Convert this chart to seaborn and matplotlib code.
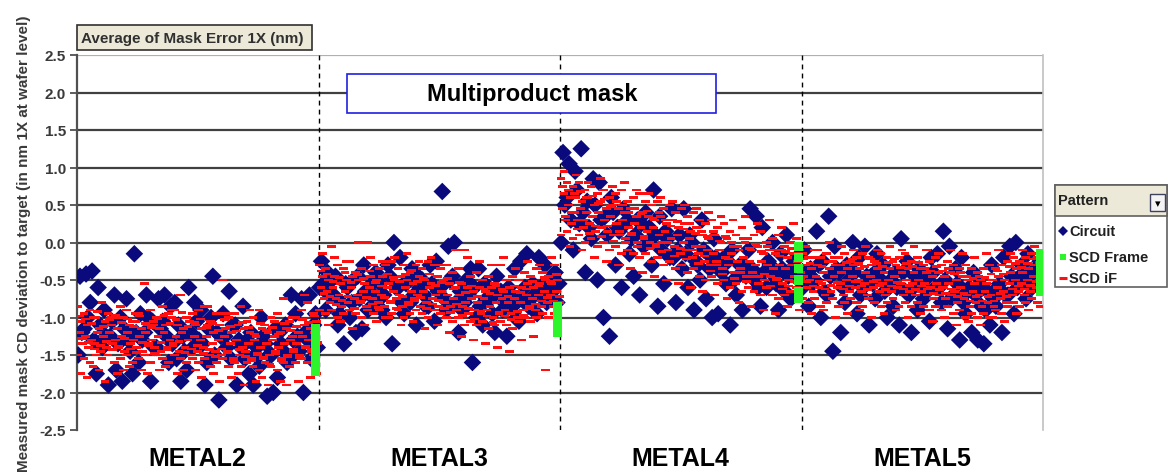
import matplotlib
matplotlib.use("Agg")
import matplotlib.pyplot as plt
from matplotlib.patches import Rectangle
from matplotlib.lines import Line2D
import seaborn as sns
import pandas as pd

# ---------------- data ----------------
METALS = ["METAL2", "METAL3", "METAL4", "METAL5"]
YTICKS = [-2.5, -2.0, -1.5, -1.0, -0.5, 0.0, 0.5, 1.0, 1.5, 2.0, 2.5]
PATTERNS = ["Circuit", "SCD Frame", "SCD iF"]

METAL2_CIRCUIT = [
    [-0.45, -0.42, -0.38, -0.6, -0.9, -1.25, -1.7, -1.85, -1.3, -0.15, -0.95, -0.7, -1.05, -0.75, -0.7, -0.85, -1.55, -1.25, -0.6, -0.8,
     -0.9, -1.6, -0.45, -2.1, -1.25, -1.55, -1.9, -0.85, -1.75, -1.5, -1.0, -2.05, -2.0, -1.2, -1.1, -0.7, -1.25, -2.0, -0.7, -0.95],
    [-1.5, -1.15, -0.8, -1.75, -1.4, -1.9, -0.7, -1.0, -0.75, -1.75, -1.6, -1.2, -1.85, -1.4, -1.05, -1.6, -0.8, -1.85, -1.7, -1.4,
     -1.3, -1.9, -1.0, -1.2, -0.95, -0.65, -1.1, -1.4, -1.3, -1.9, -1.65, -1.35, -1.5, -1.8, -1.45, -1.55, -0.95, -0.75, -1.3, -1.1],
    [-1.2, -1.0, -1.3, -1.1, -1.25, -1.05, -1.35, -1.15, -1.45, -1.2, -1.3, -1.0, -1.4, -1.15, -1.25, -1.35, -1.1, -1.45, -1.2, -1.05,
     -1.35, -1.15, -1.5, -1.25, -1.4, -1.1, -1.3, -1.55, -1.2, -1.4, -1.25, -1.5, -1.15, -1.35, -1.6, -1.3, -1.45, -1.2, -1.55, -1.4],
]
METAL2_IF = [
    [-0.85, -0.95, -0.9, -1.0, -0.8, -0.95, -1.0, -0.85, -0.9, -1.05, -0.95, -0.55, -0.9, -1.0, -0.85, -0.95, -0.9, -0.7, -1.0, -0.95,
     -0.9, -0.85, -1.05, -0.95, -0.5, -1.0, -0.95, -0.85, -1.05, -1.0, -0.9, -1.1, -1.0, -0.95, -0.75, -1.05, -1.0, -0.9, -0.8, -0.95],
    [-1.05, -1.1, -1.0, -1.15, -1.05, -1.1, -1.15, -1.0, -1.1, -1.05, -1.15, -1.1, -1.05, -1.15, -1.1, -1.0, -1.1, -1.15, -1.05, -1.1,
     -1.15, -1.1, -1.2, -1.1, -1.15, -1.2, -1.1, -1.15, -1.2, -1.25, -1.15, -1.2, -1.25, -1.2, -1.15, -1.25, -1.2, -1.1, -1.15, -1.05],
    [-1.2, -1.25, -1.3, -1.2, -1.25, -1.2, -1.3, -1.25, -1.2, -1.3, -1.25, -1.2, -1.3, -1.25, -1.2, -1.3, -1.25, -1.2, -1.3, -1.25,
     -1.3, -1.25, -1.35, -1.3, -1.25, -1.35, -1.3, -1.4, -1.35, -1.3, -1.4, -1.35, -1.3, -1.4, -1.35, -1.3, -1.35, -1.25, -1.3, -1.2],
    [-1.35, -1.4, -1.35, -1.45, -1.4, -1.35, -1.4, -1.45, -1.35, -1.4, -1.45, -1.35, -1.4, -1.45, -1.4, -1.35, -1.45, -1.4, -1.5, -1.45,
     -1.4, -1.5, -1.45, -1.5, -1.45, -1.55, -1.5, -1.45, -1.55, -1.5, -1.55, -1.5, -1.45, -1.55, -1.5, -1.45, -1.5, -1.4, -1.45, -1.35],
    [-1.5, -1.55, -1.6, -1.5, -1.55, -1.5, -1.6, -1.55, -1.5, -1.6, -1.55, -1.5, -1.6, -1.5, -1.55, -1.6, -1.5, -1.55, -1.6, -1.55,
     -1.6, -1.55, -1.65, -1.6, -1.55, -1.65, -1.6, -1.65, -1.6, -1.65, -1.7, -1.6, -1.65, -1.7, -1.6, -1.65, -1.6, -1.55, -1.6, -1.5],
    [-1.75, -1.8, -1.65, -1.7, -1.85, -1.0, -1.75, -1.7, -1.65, -0.95, -1.7, -1.75, -1.1, -1.7, -1.65, -0.9, -1.75, -1.7, -1.05, -1.7,
     -1.8, -0.85, -1.75, -1.85, -0.95, -1.8, -1.75, -1.9, -0.9, -1.85, -1.8, -1.9, -1.05, -1.85, -1.9, -1.0, -1.85, -0.7, -1.8, -1.75],
    [-0.98, -1.02, -1.08, -0.92, -1.12, -1.03, -0.97, -1.07, -1.02, -1.12, -0.98, -1.08, -1.13, -1.02, -0.97, -1.08, -1.03, -0.93, -1.12, -1.07,
     -1.02, -1.13, -1.08, -1.17, -1.03, -1.12, -1.18, -1.07, -1.13, -1.22, -1.08, -1.17, -1.13, -1.22, -1.08, -1.17, -1.12, -1.03, -1.07, -0.98],
    [-1.28, -1.33, -1.42, -1.37, -1.32, -1.43, -1.38, -1.28, -1.42, -1.47, -1.33, -1.38, -1.48, -1.33, -1.43, -1.38, -1.32, -1.47, -1.42, -1.37,
     -1.48, -1.43, -1.52, -1.42, -1.47, -1.58, -1.43, -1.52, -1.57, -1.48, -1.53, -1.62, -1.48, -1.57, -1.52, -1.43, -1.53, -1.38, -1.42, -1.33],
]
METAL2_FRAME = [-1.15, -1.25, -1.35, -1.45, -1.55, -1.65, -1.72]

METAL3_CIRCUIT = [
    [-0.25, -0.4, -0.7, -0.95, -0.55, -0.8, -0.45, -0.3, -0.65, -0.4, -0.9, -0.3, 0.0, -0.2, -0.55, -0.35, -0.45, -0.7, -0.3, -0.25,
     0.68, -0.05, 0.0, -0.65, -0.5, -1.6, -0.35, -0.55, -0.75, -0.45, -0.9, -0.6, -0.35, -0.25, -0.15, -0.55, -0.2, -0.3, -0.6, -0.8],
    [-0.6, -0.9, -0.5, -1.1, -1.35, -1.0, -1.2, -1.15, -0.9, -0.75, -0.55, -1.0, -1.35, -0.6, -0.95, -0.8, -1.1, -0.5, -0.85, -1.05,
     -0.6, -0.9, -0.45, -1.2, -0.8, -0.35, -1.0, -1.1, -0.6, -1.2, -0.65, -1.25, -0.85, -1.05, -0.6, -0.85, -0.95, -0.7, -0.5, -0.4],
    [-0.55, -0.7, -0.45, -0.8, -0.6, -0.5, -0.75, -0.65, -0.55, -0.85, -0.7, -0.45, -0.6, -0.8, -0.5, -0.7, -0.6, -0.85, -0.55, -0.65,
     -0.75, -0.5, -0.8, -0.9, -0.7, -0.6, -0.85, -0.75, -0.95, -0.65, -0.8, -0.7, -1.0, -0.75, -0.85, -0.7, -0.6, -0.8, -0.65, -0.55],
]
METAL3_IF = [
    [-0.3, -0.35, -0.05, -0.3, -0.35, -0.25, -0.4, -0.35, 0.0, -0.3, -0.35, -0.3, -0.25, -0.35, -0.3, -0.4, -0.3, -0.35, -0.25, -0.3,
     -0.35, -0.3, -0.4, -0.35, -0.1, -0.45, -0.4, -0.5, -0.45, -0.55, -0.3, -0.5, -0.45, -0.5, -0.4, -0.45, -0.35, -0.4, -0.45, -0.3],
    [-0.45, -0.5, -0.45, -0.55, -0.5, -0.45, -0.5, -0.55, -0.45, -0.5, -0.45, -0.55, -0.5, -0.45, -0.5, -0.55, -0.45, -0.5, -0.55, -0.45,
     -0.5, -0.55, -0.6, -0.55, -0.6, -0.65, -0.6, -0.65, -0.6, -0.7, -0.65, -0.6, -0.65, -0.6, -0.55, -0.6, -0.55, -0.5, -0.55, -0.5],
    [-0.6, -0.65, -0.6, -0.7, -0.65, -0.6, -0.7, -0.65, -0.6, -0.65, -0.7, -0.6, -0.65, -0.7, -0.6, -0.65, -0.7, -0.65, -0.6, -0.7,
     -0.65, -0.7, -0.75, -0.7, -0.8, -0.75, -0.8, -0.75, -0.85, -0.8, -0.75, -0.8, -0.75, -0.8, -0.7, -0.75, -0.7, -0.65, -0.7, -0.65],
    [-0.75, -0.8, -0.75, -0.85, -0.8, -0.75, -0.8, -0.85, -0.75, -0.8, -0.85, -0.8, -0.75, -0.85, -0.8, -0.75, -0.85, -0.8, -0.75, -0.85,
     -0.8, -0.85, -0.9, -0.85, -0.95, -0.9, -0.95, -0.9, -1.0, -0.95, -0.9, -0.95, -1.0, -0.9, -0.85, -0.9, -0.85, -0.8, -0.85, -0.8],
    [-0.9, -0.95, -0.9, -1.0, -0.95, -0.9, -0.95, -1.0, -0.9, -0.95, -0.9, -1.0, -0.95, -0.9, -1.0, -0.95, -0.9, -0.95, -1.0, -0.9,
     -0.95, -1.0, -1.05, -1.0, -1.1, -1.05, -1.1, -1.05, -1.15, -1.1, -1.05, -1.1, -1.15, -1.05, -1.0, -1.05, -1.0, -0.95, -1.0, -0.95],
    [-0.15, -1.1, -0.2, -1.05, -0.25, -1.15, 0.0, -1.1, -0.2, -1.05, -0.25, -1.0, -0.2, -1.1, -0.15, -1.05, -0.25, -1.15, -0.2, -1.1,
     -0.3, -1.2, -0.1, -1.25, -0.2, -1.3, -0.25, -1.35, -0.3, -1.4, -0.2, -1.45, -0.35, -1.3, -0.25, -1.25, -0.3, -1.7, -0.2, -1.15],
    [-0.38, -0.42, -0.52, -0.47, -0.4, -0.53, -0.43, -0.48, -0.38, -0.53, -0.58, -0.42, -0.47, -0.52, -0.43, -0.37, -0.52, -0.48, -0.42, -0.57,
     -0.53, -0.48, -0.62, -0.53, -0.67, -0.58, -0.72, -0.62, -0.68, -0.57, -0.63, -0.72, -0.58, -0.67, -0.62, -0.52, -0.58, -0.47, -0.52, -0.43],
    [-0.68, -0.72, -0.83, -0.77, -0.72, -0.88, -0.78, -0.73, -0.82, -0.87, -0.73, -0.78, -0.88, -0.72, -0.83, -0.77, -0.73, -0.88, -0.82, -0.77,
     -0.88, -0.93, -0.82, -0.97, -0.88, -1.02, -0.92, -0.98, -1.07, -0.93, -0.98, -1.03, -0.92, -0.97, -0.88, -0.82, -0.78, -0.73, -0.78, -0.72],
]
METAL3_FRAME = [-0.85, -0.95, -1.05, -1.15, -1.2]

METAL4_CIRCUIT = [
    [1.2, 1.05, 0.95, 1.25, 0.55, 0.85, 0.8, 0.35, 0.6, 0.2, 0.45, -0.15, 0.1, 0.25, 0.0, 0.7, 0.35, 0.15, 0.45, -0.1,
     0.45, 0.1, -0.25, 0.3, -0.15, 0.05, -0.3, -0.55, -0.1, -0.45, -0.3, 0.45, 0.35, 0.2, -0.25, -0.45, -0.15, 0.1, -0.35, -0.5],
    [0.0, 0.6, -0.1, 0.25, -0.4, 0.05, -0.5, -1.0, -1.25, -0.3, -0.6, 0.3, -0.45, -0.7, 0.4, -0.3, -0.85, -0.55, -0.2, -0.8,
     -0.35, -0.6, -0.9, -0.5, -0.75, -1.0, -0.95, -0.2, -1.1, -0.7, -0.9, -0.1, -0.5, -0.85, -0.6, 0.0, -0.9, -0.65, -0.75, -0.2],
    [0.5, 0.3, 0.7, 0.4, 0.2, 0.5, 0.3, 0.1, 0.4, 0.15, 0.25, 0.05, 0.3, -0.05, 0.2, 0.1, -0.1, 0.05, -0.2, 0.1,
     -0.15, 0.0, -0.3, -0.1, -0.35, -0.2, -0.4, -0.25, -0.5, -0.3, -0.45, -0.35, -0.6, -0.4, -0.3, -0.55, -0.35, -0.45, -0.25, -0.4],
]
METAL4_IF = [
    [0.85, 0.8, 0.75, 0.8, 0.7, 0.75, 0.65, 0.7, 0.6, 0.65, 0.7, 0.55, 0.6, 0.65, 0.55, 0.5, 0.55, 0.45, 0.5, 0.4,
     0.45, 0.35, 0.4, 0.3, 0.25, 0.3, 0.2, 0.25, 0.15, 0.1, 0.2, 0.05, 0.1, 0.15, 0.0, 0.05, 0.1, -0.05, 0.0, 0.05],
    [0.65, 0.6, 0.6, 0.55, 0.6, 0.5, 0.55, 0.45, 0.5, 0.45, 0.4, 0.45, 0.35, 0.4, 0.35, 0.3, 0.35, 0.25, 0.3, 0.2,
     0.25, 0.15, 0.2, 0.1, 0.05, 0.1, 0.0, 0.05, -0.05, -0.1, 0.0, -0.1, -0.05, -0.15, -0.1, -0.15, -0.1, -0.2, -0.15, -0.1],
    [0.45, 0.5, 0.4, 0.45, 0.4, 0.35, 0.4, 0.3, 0.35, 0.25, 0.3, 0.2, 0.25, 0.2, 0.15, 0.2, 0.1, 0.15, 0.05, 0.1,
     0.0, 0.05, -0.05, -0.05, -0.1, -0.15, -0.1, -0.2, -0.15, -0.25, -0.2, -0.25, -0.3, -0.25, -0.3, -0.35, -0.3, -0.35, -0.3, -0.25],
    [0.3, 0.25, 0.3, 0.2, 0.25, 0.15, 0.2, 0.15, 0.1, 0.15, 0.05, 0.1, 0.0, 0.05, 0.0, -0.05, 0.0, -0.1, -0.05, -0.15,
     -0.1, -0.2, -0.15, -0.25, -0.3, -0.25, -0.35, -0.3, -0.4, -0.35, -0.45, -0.4, -0.45, -0.5, -0.45, -0.5, -0.55, -0.5, -0.45, -0.4],
    [0.1, 0.15, 0.05, 0.1, 0.0, 0.05, -0.05, 0.0, -0.1, -0.05, -0.15, -0.1, -0.15, -0.2, -0.15, -0.25, -0.2, -0.3, -0.25, -0.35,
     -0.3, -0.4, -0.35, -0.45, -0.5, -0.45, -0.55, -0.5, -0.6, -0.55, -0.65, -0.6, -0.65, -0.7, -0.6, -0.7, -0.75, -0.7, -0.65, -0.6],
    [0.95, -0.05, 0.9, -0.1, 0.8, -0.2, 0.85, -0.25, 0.75, -0.3, 0.8, -0.35, 0.7, -0.4, 0.65, -0.45, 0.6, -0.5, 0.55, -0.55,
     0.5, -0.6, 0.45, -0.65, 0.4, -0.7, 0.35, -0.75, 0.3, -0.8, 0.35, -0.85, 0.25, -0.9, 0.3, -0.95, 0.2, -0.85, 0.25, -0.9],
    [0.75, 0.7, 0.65, 0.68, 0.6, 0.62, 0.52, 0.58, 0.48, 0.55, 0.5, 0.4, 0.45, 0.38, 0.42, 0.32, 0.4, 0.3, 0.22, 0.28,
     0.18, 0.25, 0.12, 0.15, 0.08, 0.15, 0.02, 0.08, 0.0, -0.05, 0.05, -0.08, -0.02, -0.12, -0.05, -0.1, -0.18, -0.12, -0.08, -0.15],
    [0.35, 0.4, 0.18, 0.3, 0.12, 0.22, 0.08, 0.22, 0.02, 0.1, 0.0, 0.12, -0.05, 0.08, -0.08, -0.02, -0.12, 0.0, -0.18, -0.08,
     -0.22, -0.1, -0.28, -0.18, -0.38, -0.3, -0.42, -0.22, -0.48, -0.4, -0.52, -0.45, -0.55, -0.42, -0.58, -0.48, -0.62, -0.58, -0.52, -0.48],
]
METAL4_FRAME = [-0.05, -0.2, -0.35, -0.5, -0.65, -0.75]

METAL5_CIRCUIT = [
    [-0.1, -0.35, 0.15, -0.25, 0.35, -0.05, -1.2, -0.3, 0.0, -0.2, -0.05, -0.45, -0.15, -0.3, -0.6, -0.4, 0.05, -0.25, -0.6, -0.35,
     -0.5, -0.2, -0.15, 0.15, -0.05, -0.35, -0.2, -0.65, -0.4, -0.55, -0.9, -0.3, -0.6, -0.2, -0.05, 0.0, -0.3, -0.15, -0.45, -0.25],
    [-0.6, -0.85, -0.5, -1.0, -0.7, -1.45, -0.4, -0.8, -0.55, -0.95, -0.6, -1.1, -0.75, -0.5, -1.0, -0.85, -1.1, -0.65, -1.2, -0.9,
     -0.75, -1.05, -0.6, -0.8, -1.15, -0.7, -1.3, -0.95, -1.2, -1.3, -1.35, -1.1, -0.85, -1.2, -0.7, -0.95, -0.5, -0.75, -0.6, -0.35],
    [-0.4, -0.55, -0.3, -0.65, -0.45, -0.35, -0.6, -0.5, -0.4, -0.7, -0.45, -0.55, -0.35, -0.65, -0.5, -0.6, -0.4, -0.7, -0.45, -0.55,
     -0.65, -0.4, -0.6, -0.5, -0.75, -0.55, -0.8, -0.6, -0.7, -0.85, -0.65, -0.75, -0.55, -0.7, -0.45, -0.6, -0.4, -0.55, -0.35, -0.5],
]
METAL5_IF = [
    [-0.15, -0.2, -0.1, -0.2, -0.15, -0.25, -0.2, -0.15, -0.25, -0.2, -0.15, -0.2, -0.25, -0.15, -0.2, -0.25, -0.2, -0.15, -0.25, -0.2,
     -0.3, -0.25, -0.2, -0.3, -0.25, -0.3, -0.35, -0.3, -0.35, -0.4, -0.35, -0.3, -0.35, -0.3, -0.25, -0.2, -0.25, -0.2, -0.15, -0.2],
    [-0.3, -0.35, -0.3, -0.4, -0.35, -0.3, -0.4, -0.35, -0.3, -0.35, -0.4, -0.3, -0.35, -0.4, -0.35, -0.3, -0.4, -0.35, -0.4, -0.35,
     -0.4, -0.45, -0.4, -0.45, -0.4, -0.5, -0.45, -0.5, -0.55, -0.5, -0.55, -0.5, -0.45, -0.5, -0.4, -0.35, -0.4, -0.35, -0.3, -0.35],
    [-0.45, -0.5, -0.45, -0.55, -0.5, -0.45, -0.55, -0.5, -0.45, -0.5, -0.55, -0.45, -0.5, -0.55, -0.5, -0.45, -0.55, -0.5, -0.55, -0.5,
     -0.55, -0.6, -0.55, -0.6, -0.55, -0.65, -0.6, -0.7, -0.65, -0.7, -0.65, -0.7, -0.6, -0.65, -0.55, -0.5, -0.55, -0.5, -0.45, -0.5],
    [-0.6, -0.65, -0.6, -0.7, -0.65, -0.6, -0.7, -0.65, -0.6, -0.65, -0.7, -0.6, -0.65, -0.7, -0.65, -0.6, -0.7, -0.65, -0.7, -0.65,
     -0.7, -0.75, -0.7, -0.75, -0.7, -0.8, -0.75, -0.85, -0.8, -0.85, -0.8, -0.85, -0.75, -0.8, -0.7, -0.65, -0.7, -0.65, -0.6, -0.65],
    [-0.75, -0.8, -0.75, -0.85, -0.8, -0.75, -0.85, -0.8, -0.75, -0.8, -0.85, -0.75, -0.8, -0.85, -0.8, -0.75, -0.85, -0.8, -0.85, -0.8,
     -0.85, -0.9, -0.85, -0.9, -0.85, -0.95, -0.9, -1.0, -0.95, -1.0, -0.95, -1.0, -0.9, -0.95, -0.85, -0.8, -0.85, -0.8, -0.75, -0.8],
    [-0.05, -0.95, -0.1, -0.9, 0.0, -1.0, -0.05, -0.95, -0.1, -0.9, -0.05, -1.0, -0.1, -0.95, -0.05, -0.9, -0.1, -1.0, -0.05, -0.95,
     -0.1, -1.05, -0.15, -1.0, -0.1, -1.1, -0.15, -1.05, -0.2, -1.1, -0.15, -1.0, -0.1, -1.05, -0.15, -0.95, -0.1, -0.9, -0.05, -0.85],
    [-0.22, -0.28, -0.2, -0.32, -0.25, -0.2, -0.3, -0.27, -0.22, -0.28, -0.32, -0.22, -0.28, -0.32, -0.27, -0.22, -0.33, -0.28, -0.32, -0.27,
     -0.35, -0.38, -0.32, -0.38, -0.35, -0.42, -0.4, -0.45, -0.48, -0.45, -0.47, -0.42, -0.38, -0.42, -0.32, -0.28, -0.33, -0.28, -0.22, -0.27],
    [-0.52, -0.58, -0.52, -0.62, -0.57, -0.53, -0.62, -0.58, -0.52, -0.58, -0.63, -0.52, -0.57, -0.63, -0.58, -0.53, -0.62, -0.57, -0.63, -0.58,
     -0.62, -0.68, -0.63, -0.68, -0.62, -0.72, -0.68, -0.78, -0.72, -0.78, -0.72, -0.78, -0.68, -0.72, -0.62, -0.58, -0.62, -0.57, -0.52, -0.57],
]
METAL5_FRAME = [-0.15, -0.25, -0.35, -0.45, -0.55, -0.65]

CIRCUIT = [METAL2_CIRCUIT, METAL3_CIRCUIT, METAL4_CIRCUIT, METAL5_CIRCUIT]
SCD_IF = [METAL2_IF, METAL3_IF, METAL4_IF, METAL5_IF]
SCD_FRAME = [METAL2_FRAME, METAL3_FRAME, METAL4_FRAME, METAL5_FRAME]

# ---------------- build tables ----------------
N_SITES = len(METAL2_CIRCUIT[0])
rec = []
for m, metal in enumerate(METALS):
    for r, row in enumerate(CIRCUIT[m]):
        off = [0.5, 0.2, 0.8][r % 3]
        for i, v in enumerate(row):
            rec.append((m * N_SITES + i + off, v, "Circuit", metal))
    for r, row in enumerate(SCD_IF[m]):
        off = [0.15, 0.65, 0.4, 0.9][r % 4]
        for i, v in enumerate(row):
            rec.append((m * N_SITES + i + off, v, "SCD iF", metal))
    for v in SCD_FRAME[m]:
        rec.append((m * N_SITES + N_SITES - 0.45, v, "SCD Frame", metal))
df = pd.DataFrame(rec, columns=["x", "y", "Pattern", "Metal"])

# ---------------- plot ----------------
sns.set_theme(style="white")
plt.rcParams["font.family"] = ["Liberation Sans", "DejaVu Sans"]

W, H = 1170, 477
fig = plt.figure(figsize=(W / 100, H / 100), dpi=100)
L, R, T, B = 77, 1043, 56, 431
ax = fig.add_axes([L / W, 1 - B / H, (R - L) / W, (B - T) / H])

NAVY = "#0a0a7c"
RED = "#ff1010"
GREEN = "#2cf52c"
dash = [(-1, -0.34), (1, -0.34), (1, 0.34), (-1, 0.34), (-1, -0.34)]

sns.scatterplot(data=df[df.Pattern == "Circuit"], x="x", y="y", marker="D", s=80,
                color=NAVY, edgecolor="none", linewidth=0, ax=ax, legend=False, zorder=3)
sns.scatterplot(data=df[df.Pattern == "SCD iF"], x="x", y="y", marker=dash, s=40,
                color=RED, edgecolor="none", linewidth=0, ax=ax, legend=False, zorder=4)
sns.scatterplot(data=df[df.Pattern == "SCD Frame"], x="x", y="y", marker="s", s=42,
                color=GREEN, edgecolor="none", linewidth=0, ax=ax, legend=False, zorder=5)

ax.set_xlim(0, N_SITES * len(METALS))
ax.set_ylim(YTICKS[0], YTICKS[-1])
ax.set_yticks(YTICKS)
ax.set_yticklabels([f"{t:.1f}" for t in YTICKS], fontsize=11, fontweight="bold", color="#3a3a3a")
ax.set_xticks([])
ax.set_xlabel("")
ax.set_ylabel("Measured mask CD deviation to target (in nm 1X at wafer level)",
              fontsize=11, fontweight="bold", color="#3a3a3a", labelpad=6)
ax.tick_params(axis="y", which="both", left=True, length=5, width=1.3, color="#505050", pad=3)

for t in YTICKS[1:-1]:
    ax.axhline(t, color="#404040", lw=1.6, zorder=1)
ax.axhline(YTICKS[-1], color="#b0b0b0", lw=1.6, zorder=1)

for sp in ["top", "bottom"]:
    ax.spines[sp].set_visible(False)
ax.spines["left"].set_color("#505050")
ax.spines["left"].set_linewidth(1.6)
ax.spines["right"].set_color("#c0c0c0")
ax.spines["right"].set_linewidth(1.2)

for m in range(1, len(METALS)):
    ax.axvline(m * N_SITES, color="black", lw=1.0, ls=(0, (3.5, 3)), zorder=2)

for m, metal in enumerate(METALS):
    ax.text(m * N_SITES + N_SITES / 2, -0.075, metal, transform=ax.get_xaxis_transform(),
            ha="center", va="center", fontsize=18, fontweight="bold", color="black")

# header box
fig.patches.append(Rectangle((L / W, 1 - 51 / H), (312 - L) / W, 25 / H, transform=fig.transFigure,
                             facecolor="#ece9d8", edgecolor="#303030", lw=1.2))
fig.text((L + 4) / W, 1 - 39 / H, "Average of Mask Error 1X (nm)", fontsize=11, fontweight="bold",
         color="#303030", ha="left", va="center")

# Multiproduct mask box
fig.patches.append(Rectangle((347 / W, 1 - 114 / H), (716 - 347) / W, 39 / H, transform=fig.transFigure,
                             facecolor="white", edgecolor="#2020e0", lw=1.2, zorder=6))
fig.text(532 / W, 1 - 94 / H, "Multiproduct mask", fontsize=17, fontweight="bold",
         color="black", ha="center", va="center", zorder=7)

# legend panel
fig.patches.append(Rectangle((1055 / W, 1 - 288 / H), (1167 - 1055) / W, (288 - 186) / H,
                             transform=fig.transFigure, facecolor="white", edgecolor="#606060", lw=1.2))
fig.patches.append(Rectangle((1055 / W, 1 - 217 / H), (1167 - 1055) / W, (217 - 186) / H,
                             transform=fig.transFigure, facecolor="#ece9d8", edgecolor="#606060", lw=1.2))
fig.patches.append(Rectangle((1150 / W, 1 - 212 / H), 15 / W, 17 / H, transform=fig.transFigure,
                             facecolor="#f4f4f4", edgecolor="#404060", lw=1.0))
fig.text(1157.5 / W, 1 - 204 / H, "\u25be", fontsize=8, ha="center", va="center", color="black",
         family=["DejaVu Sans"])
fig.text(1058 / W, 1 - 201 / H, "Pattern", fontsize=10.5, fontweight="bold", ha="left", va="center", color="#202020")
leg_marks = [("D", NAVY, 5.5), ("s", GREEN, 5.0), ("_", RED, 6.0)]
leg_y = [232, 258, 279]
for (mk, col, ms), lab, yy in zip(leg_marks, PATTERNS, leg_y):
    fig.add_artist(Line2D([1063 / W], [1 - yy / H], marker=mk, color=col, markersize=ms,
                          markeredgewidth=2.2 if mk == "_" else 0, transform=fig.transFigure))
    fig.text(1069 / W, 1 - yy / H, lab, fontsize=10.5, fontweight="bold", ha="left", va="center", color="#202020")

fig.savefig("out.png", dpi=100)
